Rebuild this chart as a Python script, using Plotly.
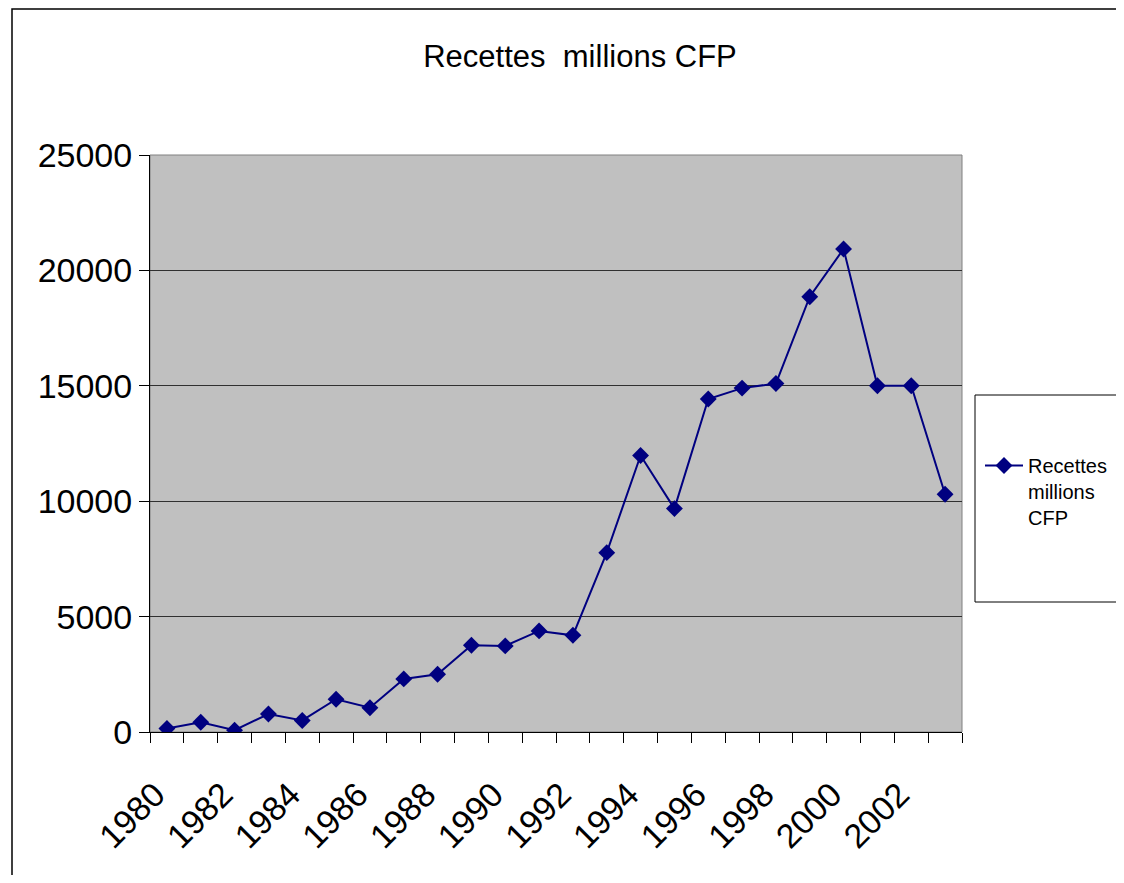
import plotly.graph_objects as go

years = list(range(1980, 2004))
recettes = [150, 420, 80, 780, 500, 1420, 1050, 2300, 2500, 3760, 3730, 4380, 4190,
            7770, 11980, 9680, 14430, 14900, 15100, 18860, 20930, 15000, 15000, 10300]
tick_years = list(range(1980, 2003, 2))
series_name = "Recettes<br>millions<br>CFP"
title_text = "Recettes  millions CFP"

OFF = 8  # page body margin
W, H = 1124 - 2 * OFF, 883 - 2 * OFF
L, R, T, B = 150 - OFF, 962 - OFF, 155 - OFF, 732 - OFF
pw, ph = R - L, B - T

def px_x(x):
    return (x - OFF - L) / pw

def px_y(y):
    return (B - (y - OFF)) / ph

FONT = "Liberation Sans, Arial, sans-serif"

fig = go.Figure()
fig.add_trace(go.Scatter(
    x=years, y=recettes, mode="lines+markers", name=series_name,
    line=dict(color="#000080", width=2),
    marker=dict(symbol="diamond", size=13, color="#000080"),
))

fig.update_layout(
    width=W, height=H,
    margin=dict(l=L, r=W - R, t=T, b=H - B, pad=0, autoexpand=False),
    paper_bgcolor="white", plot_bgcolor="#C0C0C0",
    font=dict(family=FONT, color="black"),
    title=dict(text=title_text, x=(580 - OFF) / W, xanchor="center", y=1 - (56 - OFF) / H,
               yanchor="middle", font=dict(size=31, family=FONT, color="black")),
    showlegend=True,
    legend=dict(x=px_x(980), xanchor="left", y=px_y(446), yanchor="top",
                bgcolor="rgba(0,0,0,0)", borderwidth=0, valign="top", itemwidth=38,
                font=dict(size=20, family=FONT, color="black")),
    xaxis=dict(
        range=[1979.5, 2003.5], tickmode="array",
        tickvals=[v - 0.35 for v in tick_years],
        ticktext=[str(v) for v in tick_years], tickangle=-45,
        ticks="", ticklabelstandoff=28,
        tickfont=dict(size=34, family=FONT, color="black"),
        showgrid=False, zeroline=False,
        showline=True, linecolor="black", linewidth=1,
        minor=dict(tick0=1979.5, dtick=1, ticks="outside", ticklen=10,
                   tickcolor="black", tickwidth=1, showgrid=False),
    ),
    yaxis=dict(
        range=[0, 25000], tickmode="linear", tick0=0, dtick=5000, tickformat="d",
        ticks="outside", ticklen=10, tickcolor="black",
        tickfont=dict(size=34, family=FONT, color="black"),
        showgrid=True, gridcolor="#303030", gridwidth=1,
        zeroline=False, showline=True, linecolor="black", linewidth=1,
    ),
    shapes=[
        dict(type="rect", xref="paper", yref="paper", x0=0, x1=1, y0=0, y1=1,
             line=dict(color="#808080", width=1), layer="below"),
        dict(type="rect", xref="paper", yref="paper",
             x0=px_x(975), x1=px_x(1135), y0=px_y(602), y1=px_y(395),
             line=dict(color="black", width=1)),
        dict(type="rect", xref="paper", yref="paper",
             x0=px_x(12), x1=px_x(1140), y0=px_y(900), y1=px_y(9),
             line=dict(color="black", width=1.5)),
    ],
)

fig.write_html("out.html")
